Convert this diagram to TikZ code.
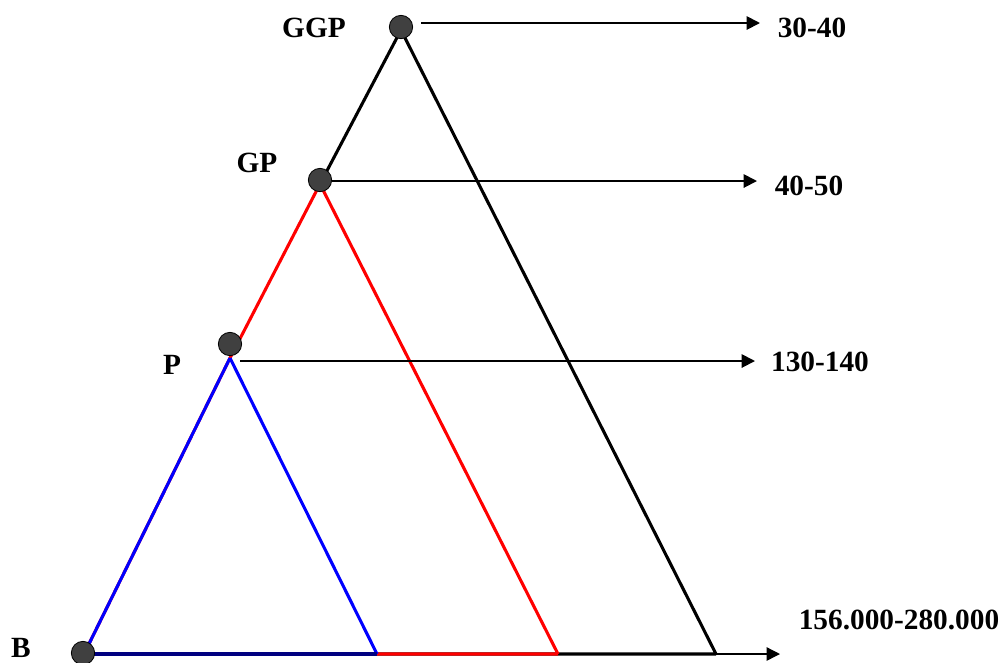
\documentclass[tikz,border=0pt]{standalone}
\usepackage{fontspec}
\setmainfont{Liberation Serif}
\usetikzlibrary{arrows.meta}
\begin{document}
\begin{tikzpicture}[x=.75pt, y=-.75pt,
  every node/.style={font=\fontsize{22}{26}\selectfont\bfseries, inner sep=0pt},
  dot/.style={circle, draw, fill=black!75, line width=.6pt, minimum size=17.5pt},
  arr/.style={line width=1.4pt, -{Triangle[length=10pt,width=10pt]}},
  side/.style={line width=2.3pt}]
  \useasboundingbox (0,0) rectangle (1006,662);

  \coordinate (T1) at (401,30);
  \coordinate (T2) at (320,184);
  \coordinate (T3) at (230,358);
  \coordinate (O) at (84,654);
  \coordinate (R1) at (716,654);
  \coordinate (R2) at (558,654);
  \coordinate (R3) at (377,654);
  \coordinate (E) at (780,654);
  \coordinate (a1) at (421,23);
  \coordinate (b1) at (760,23);
  \coordinate (a2) at (332,181);
  \coordinate (b2) at (757,181);
  \coordinate (a3) at (240,361);
  \coordinate (b3) at (755,361);

  \draw[arr, line width=1pt] (O)--(E);
  \draw[side] (T1)--(R1) (T1)--(T2) (O)--(R1);
  \draw[side, red] (T2)--(R2) (T2)--(T3)--(O) (O)--(R2);
  \draw[side, blue] (T3)--(R3) (T3)--(O);
  \draw[side, blue!50!black] (O)--(R3);

  \draw[arr] (a1)--(b1);
  \draw[arr] (a2)--(b2);
  \draw[arr] (a3)--(b3);

  \node[dot] (ggp) at (401,27) {};
  \node[dot] (gp) at (320,180) {};
  \node[dot] (p) at (230,344) {};
  \node[dot] (b) at (83,653) {};

  \node (lggp) at (314,28) {GGP};
  \node (lgp) at (257,163) {GP};
  \node (lp) at (172,365) {P};
  \node (lb) at (21,648) {B};
  \node (v1) at (812,28) {30-40};
  \node (v2) at (809,186) {40-50};
  \node (v3) at (820,362) {130-140};
  \node (v4) at (899,620) {156.000-280.000};
\end{tikzpicture}
\end{document}
